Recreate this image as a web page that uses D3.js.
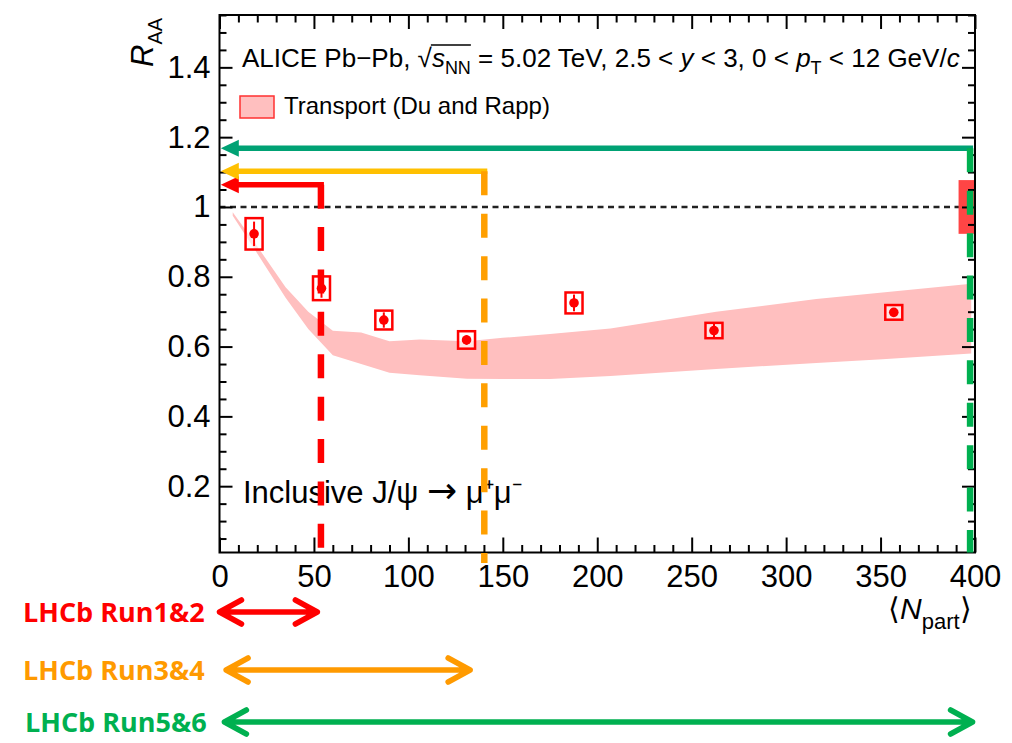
<!DOCTYPE html>
<html>
<head>
<meta charset="utf-8">
<script src="https://cdn.jsdelivr.net/npm/d3@7"></script>
<style>
  body { margin: 0; background: #fff; }
  svg { display: block; }
</style>
</head>
<body>
<div id="chart"></div>
<script>
// ALICE inclusive J/psi RAA vs <Npart>
const nPart   = [18.3, 54, 87, 130.8, 187.7, 261.8, 357];
const raa     = [0.923, 0.767, 0.676, 0.619, 0.725, 0.646, 0.698];
const statErr = [0.035, 0.027, 0.022, 0.014, 0.024, 0.022, 0.012];
const systErr = [0.045, 0.034, 0.027, 0.025, 0.030, 0.022, 0.021];
const globalErr = 0.077;

// Transport model band (Du and Rapp)
const bandN  = [7,     19,    35,    47,    60,    75,    90,    106,   131,   150,   175,   207,   263,   316,   351,   398];
const bandHi = [0.985, 0.895, 0.77,  0.70,  0.645, 0.64,  0.615, 0.62,  0.615, 0.625, 0.636, 0.652, 0.70,  0.736, 0.755, 0.78];
const bandLo = [0.975, 0.875, 0.74,  0.65,  0.575, 0.55,  0.525, 0.518, 0.508, 0.507, 0.507, 0.516, 0.536, 0.553, 0.564, 0.58];

// LHCb reach overlays
const runLabels    = ['LHCb Run1&2', 'LHCb Run3&4', 'LHCb Run5&6'];
const runColors    = ['#ff0000', '#ff9a00', '#00b050'];
const runHColors   = ['#ff0000', '#ffc000', '#00a274'];
const runNpartEdge = [53.7, 140.2, 397.4];
const runRaaLevel  = [1.064, 1.102, 1.168];
const runArrowFrom = [0, 3.5, 2.6];
const runArrowTo   = [51.8, 132.7, 398.7];

const xTicks = [0, 50, 100, 150, 200, 250, 300, 350, 400];
const yTicks = [0.2, 0.4, 0.6, 0.8, 1, 1.2, 1.4];

const W = 1012, H = 743;
const FONT = 'Liberation Sans, Arial, sans-serif';

const svg = d3.select('#chart').append('svg')
  .attr('width', W).attr('height', H);

const x = d3.scaleLinear().domain([0, 400]).range([219.5, 975]);
const y = d3.scaleLinear().domain([0.01, 1.55]).range([552.5, 15]);

const [x0, x1] = x.range();
const [yb, yt] = y.range();

// band
const band = d3.area()
  .x((d, i) => x(bandN[i]))
  .y0((d, i) => y(bandLo[i]))
  .y1((d, i) => y(bandHi[i]))
  .curve(d3.curveLinear);

svg.append('path')
  .datum(bandN)
  .attr('d', band)
  .attr('fill', '#ffbfbf');

// unity line
svg.append('line')
  .attr('x1', x0).attr('x2', x1)
  .attr('y1', y(1)).attr('y2', y(1))
  .attr('stroke', '#222').attr('stroke-width', 2.5)
  .attr('stroke-dasharray', '6,4.5');

// data points
const pts = svg.append('g');
const boxHalf = 4.5;
nPart.forEach((n, i) => {
  pts.append('rect')
    .attr('x', x(n - boxHalf)).attr('y', y(raa[i] + systErr[i]))
    .attr('width', x(n + boxHalf) - x(n - boxHalf))
    .attr('height', y(raa[i] - systErr[i]) - y(raa[i] + systErr[i]))
    .attr('fill', '#fff').attr('fill-opacity', 0.6)
    .attr('stroke', '#ff0000').attr('stroke-width', 2.5);
  pts.append('line')
    .attr('x1', x(n)).attr('x2', x(n))
    .attr('y1', y(raa[i] + statErr[i])).attr('y2', y(raa[i] - statErr[i]))
    .attr('stroke', '#ff0000').attr('stroke-width', 2);
  pts.append('circle')
    .attr('cx', x(n)).attr('cy', y(raa[i]))
    .attr('r', 4.8).attr('fill', '#ff0000');
});

// global uncertainty box
svg.append('rect')
  .attr('x', x(391.3)).attr('y', y(1 + globalErr))
  .attr('width', x(400) - x(391.3))
  .attr('height', y(1 - globalErr) - y(1 + globalErr))
  .attr('fill', '#ff4545');

// frame + ticks (ticks pointing inward)
const majorY = d3.range(0.2, 1.55, 0.2).map(v => +v.toFixed(2));
const minorY = d3.range(0.05, 1.551, 0.05).map(v => +v.toFixed(2))
  .filter(v => Math.abs(v / 0.2 - Math.round(v / 0.2)) > 1e-6);
const minorX = d3.range(10, 400, 10).filter(v => v % 50 !== 0);

function tickAxis(axis, tr, vals, size) {
  const g = svg.append('g')
    .attr('transform', tr)
    .call(axis.tickValues(vals).tickSize(size).tickFormat(''));
  g.select('.domain').remove();
  g.selectAll('line').attr('stroke', '#000').attr('stroke-width', 2);
  return g;
}
tickAxis(d3.axisLeft(y),   `translate(${x0},0)`, majorY, -13);
tickAxis(d3.axisLeft(y),   `translate(${x0},0)`, minorY, -7);
tickAxis(d3.axisRight(y),  `translate(${x1},0)`, majorY, -13);
tickAxis(d3.axisRight(y),  `translate(${x1},0)`, minorY, -7);
tickAxis(d3.axisBottom(x), `translate(0,${yb})`, xTicks, -15);
tickAxis(d3.axisBottom(x), `translate(0,${yb})`, minorX, -7.5);
tickAxis(d3.axisTop(x),    `translate(0,${yt})`, xTicks, -14);
tickAxis(d3.axisTop(x),    `translate(0,${yt})`, minorX, -7.5);

svg.append('rect')
  .attr('x', x0).attr('y', yt)
  .attr('width', x1 - x0).attr('height', yb - yt)
  .attr('fill', 'none').attr('stroke', '#000').attr('stroke-width', 2);

// tick labels
const yl = svg.append('g')
  .attr('transform', `translate(${x0},0)`)
  .call(d3.axisLeft(y).tickValues(yTicks).tickSize(0).tickPadding(9)
    .tickFormat(d => String(+d.toFixed(1))));
yl.select('.domain').remove();
yl.selectAll('text').attr('font-family', FONT).attr('font-size', 31).attr('fill', '#000');

const xl = svg.append('g')
  .attr('transform', `translate(0,${yb})`)
  .call(d3.axisBottom(x).tickValues(xTicks).tickSize(0).tickPadding(12));
xl.select('.domain').remove();
xl.selectAll('text').attr('font-family', FONT).attr('font-size', 31).attr('fill', '#000');

// axis titles
const yt1 = svg.append('text')
  .attr('transform', 'translate(153,67) rotate(-90)')
  .attr('font-family', FONT).attr('font-size', 31);
yt1.append('tspan').attr('font-style', 'italic').text('R');
yt1.append('tspan').attr('font-size', 20).attr('dy', 9).text('AA');

const xt = svg.append('text')
  .attr('x', 888).attr('y', 619)
  .attr('font-family', FONT).attr('font-size', 30);
xt.append('tspan').text('\u27E8');
xt.append('tspan').attr('font-style', 'italic').text('N');
xt.append('tspan').attr('font-size', 22).attr('dy', 10).text('part');
xt.append('tspan').attr('dy', -10).text('\u27E9');

// header text
const head = svg.append('text')
  .attr('x', 242).attr('y', 67)
  .attr('font-family', FONT).attr('font-size', 26);
head.append('tspan').text('ALICE Pb\u2212Pb, \u221A');
const sTs = head.append('tspan').attr('font-style', 'italic').text('s');
const nnTs = head.append('tspan').attr('font-size', 18).attr('dy', 6.5).text('NN');
head.append('tspan').attr('dy', -6.5).text(' = 5.02 TeV, 2.5 < ');
head.append('tspan').attr('font-style', 'italic').text('y');
head.append('tspan').text(' < 3, 0 < ');
head.append('tspan').attr('font-style', 'italic').text('p');
head.append('tspan').attr('font-size', 18).attr('dy', 6.5).text('T');
head.append('tspan').attr('dy', -6.5).text(' < 12 GeV/');
head.append('tspan').attr('font-style', 'italic').text('c');
try {
  const b1 = sTs.node().getBBox(), b2 = nnTs.node().getBBox();
  svg.append('line')
    .attr('x1', b1.x - 1).attr('x2', b2.x + b2.width)
    .attr('y1', b1.y + 2).attr('y2', b1.y + 2)
    .attr('stroke', '#000').attr('stroke-width', 1.5);
} catch (e) {}

// legend
svg.append('rect')
  .attr('x', 240).attr('y', 96).attr('width', 34).attr('height', 22)
  .attr('fill', '#ffbfbf').attr('stroke', '#ff3030').attr('stroke-width', 1.5);
svg.append('text')
  .attr('x', 284).attr('y', 114)
  .attr('font-family', FONT).attr('font-size', 24)
  .text('Transport (Du and Rapp)');

const incl = svg.append('text')
  .attr('x', 243).attr('y', 503)
  .attr('font-family', FONT).attr('font-size', 31);
incl.append('tspan').text('Inclusive J/\u03C8  ');
incl.append('tspan').attr('font-family', 'DejaVu Sans').attr('font-size', 36).text('\u2192');
incl.append('tspan').text('  \u03BC\u207A\u03BC\u207B');

// LHCb overlays: horizontal arrows + dashed verticals
const over = svg.append('g');
runLabels.forEach((lab, i) => {
  const ly = y(runRaaLevel[i]);
  const xe = x(runNpartEdge[i]);
  const tip = x(0.7);
  over.append('line')
    .attr('x1', tip + 12).attr('x2', xe + 3)
    .attr('y1', ly).attr('y2', ly)
    .attr('stroke', runHColors[i]).attr('stroke-width', 5.5);
  over.append('path')
    .attr('d', `M${tip},${ly}L${tip + 18},${ly - 8.5}L${tip + 18},${ly + 8.5}Z`)
    .attr('fill', runHColors[i]);
  over.append('line')
    .attr('x1', xe).attr('x2', xe)
    .attr('y1', ly).attr('y2', i === 1 ? y(-0.02) : yb)
    .attr('stroke', i === 1 ? '#ff9f00' : runColors[i])
    .attr('stroke-width', 6.5)
    .attr('stroke-dasharray', '24,18.4');
});

// bottom labels + double arrows
const rowY = [612, 670, 722];
const rowX = [23, 23, 25];
runLabels.forEach((lab, i) => {
  const g = svg.append('g');
  g.append('text')
    .attr('x', rowX[i]).attr('y', rowY[i] + 10)
    .attr('font-family', 'Open Sans, sans-serif').attr('font-weight', 700)
    .attr('font-size', 27).attr('fill', runColors[i])
    .text(lab);
  const a = x(runArrowFrom[i]), b = x(runArrowTo[i]), yy = rowY[i];
  g.append('path')
    .attr('d', `M${a},${yy}H${b}M${a + 22},${yy - 12}L${a},${yy}L${a + 22},${yy + 12}` +
               `M${b - 22},${yy - 12}L${b},${yy}L${b - 22},${yy + 12}`)
    .attr('fill', 'none').attr('stroke', runColors[i])
    .attr('stroke-width', 5.5)
    .attr('stroke-linecap', 'round').attr('stroke-linejoin', 'round');
});
</script>
</body>
</html>
